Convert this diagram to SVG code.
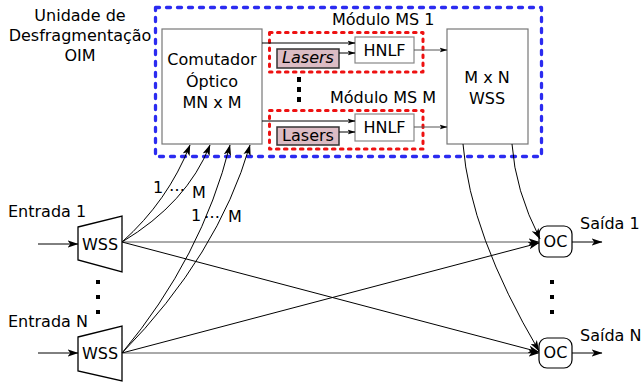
<svg xmlns="http://www.w3.org/2000/svg" width="643" height="383" viewBox="0 0 643 383">
<style>
text{font-family:"DejaVu Sans","Liberation Sans",sans-serif;font-size:16px;fill:#000}
.c{text-anchor:middle}
.box{fill:#fff;stroke:#777;stroke-width:1.2}
.hn{fill:#fff;stroke:#888;stroke-width:1.2}
.las{fill:#dcbcc4;stroke:#333;stroke-width:1.5}
.wss{fill:#fff;stroke:#000;stroke-width:1.3}
.oc{fill:#fff;stroke:#000;stroke-width:1.2}
.ln{fill:none;stroke:#000;stroke-width:1}
.lg{fill:none;stroke:#555;stroke-width:1}
.big{marker-end:url(#ah)}
.sm{marker-end:url(#as)}
.blue{fill:none;stroke:#2b2bf0;stroke-width:3.3;stroke-dasharray:4 7;stroke-linecap:round;stroke-linejoin:round}
.red{fill:none;stroke:#ee1111;stroke-width:3;stroke-dasharray:2.6 5.4;stroke-linecap:round;stroke-linejoin:round}
.dot{fill:#000}
</style>
<defs>
<marker id="ah" viewBox="0 0 11 8" refX="10.5" refY="4" markerWidth="11" markerHeight="8" markerUnits="userSpaceOnUse" orient="auto">
<path d="M0,0.3 L11,4 L0,7.7 L2.8,4 Z" fill="#000"/>
</marker>
<marker id="as" viewBox="0 0 8 6" refX="7.5" refY="3" markerWidth="8" markerHeight="6" markerUnits="userSpaceOnUse" orient="auto">
<path d="M0,0.5 L8,3 L0,5.5 L2,3 Z" fill="#000"/>
</marker>
</defs>

<g id="unit-label">
<text class="c" x="80" y="21">Unidade de</text>
<text class="c" x="80" y="41">Desfragmentação</text>
<text class="c" x="80" y="61">OIM</text>
</g>

<g id="oim-unit">
<rect class="blue" x="155.5" y="7.5" width="386" height="149"/>
</g>

<g id="comutador">
<rect class="box" x="162" y="29" width="100" height="115"/>
<text class="c" x="212" y="65">Comutador</text>
<text class="c" x="212" y="87">Óptico</text>
<text class="c" x="212" y="108">MN x M</text>
</g>

<g id="modulo-ms-1">
<rect class="red" x="269.5" y="32.5" width="153.5" height="39.5"/>
<text x="332" y="25">Módulo MS 1</text>
</g>
<g id="hnlf-1">
<rect class="hn" x="355" y="37" width="59" height="26"/>
<text class="c" x="384.5" y="56">HNLF</text>
</g>
<g id="lasers-1">
<rect class="las" x="277" y="49" width="62" height="19"/>
<text class="c" x="308" y="63" font-style="italic">Lasers</text>
</g>

<g id="modulo-ms-m">
<rect class="red" x="269.5" y="110.5" width="153.5" height="38.5"/>
<text x="330" y="103">Módulo MS M</text>
</g>
<g id="hnlf-m">
<rect class="hn" x="355" y="114" width="59" height="27"/>
<text class="c" x="384.5" y="133">HNLF</text>
</g>
<g id="lasers-m">
<rect class="las" x="277" y="127" width="62" height="18"/>
<text class="c" x="308" y="141">Lasers</text>
</g>

<g id="module-dots">
<rect class="dot" x="297" y="77" width="4" height="5"/>
<rect class="dot" x="297" y="87" width="4" height="5"/>
<rect class="dot" x="297" y="97" width="4" height="5"/>
</g>

<g id="mxn-wss">
<rect class="box" x="447" y="29" width="81" height="115"/>
<text class="c" x="487" y="83">M x N</text>
<text class="c" x="487" y="104">WSS</text>
</g>

<g id="wss-1">
<path class="wss" d="M78,227 L122,216 L122,272 L78,260 Z"/>
<text class="c" x="100" y="250">WSS</text>
</g>
<g id="wss-n">
<path class="wss" d="M78,337 L122,326 L122,381 L78,371 Z"/>
<text class="c" x="100" y="359">WSS</text>
</g>

<g id="entrada-labels">
<text x="8" y="217">Entrada 1</text>
<text x="8" y="327">Entrada N</text>
</g>

<g id="wss-dots">
<rect class="dot" x="96" y="280" width="4" height="4"/>
<rect class="dot" x="96" y="295" width="4" height="4"/>
<rect class="dot" x="96" y="310" width="4" height="4"/>
</g>

<g id="oc-1">
<rect class="oc" x="539" y="226" width="33" height="31" rx="8"/>
<text class="c" x="555.5" y="247">OC</text>
</g>
<g id="oc-n">
<rect class="oc" x="539" y="338" width="33" height="30" rx="8"/>
<text class="c" x="555.5" y="358">OC</text>
</g>

<g id="oc-dots">
<rect class="dot" x="550" y="280" width="4" height="4"/>
<rect class="dot" x="550" y="295" width="4" height="4"/>
<rect class="dot" x="550" y="310" width="4" height="4"/>
</g>

<g id="saida-labels">
<text x="580" y="229">Saída 1</text>
<text x="580" y="341">Saída N</text>
</g>

<g id="connectors">
<path class="ln big" d="M38,244 L78,244"/>
<path class="ln big" d="M38,353 L78,353"/>
<path class="lg big" d="M122,242 L539,242"/>
<path class="lg big" d="M122,353 L539,353"/>
<path class="ln big" d="M122,242 L539,352"/>
<path class="ln big" d="M122,353 L539,243"/>
<path class="ln big" d="M572,242 L602,242"/>
<path class="ln big" d="M572,353 L602,353"/>

<path class="ln big" d="M122,242 Q168,201 190,145"/>
<path class="ln big" d="M122,242 Q187,203 210,145"/>
<path class="ln big" d="M122,353 Q202,257 230,145"/>
<path class="ln big" d="M122,353 Q218,255 250,145"/>

<path class="ln big" d="M463,144 Q470,234 539,351"/>
<path class="ln big" d="M512,144 Q515,190 540,239"/>

<path class="ln sm" d="M262,43 L355,43"/>
<path class="ln sm" d="M339,53 L355,53"/>
<path class="lg sm" d="M414,50 L447,50"/>
<path class="ln sm" d="M262,121 L355,121"/>
<path class="ln sm" d="M339,132 L355,132"/>
<path class="lg sm" d="M414,127 L447,127"/>
</g>

<g id="curve-labels">
<text x="153" y="193">1</text>
<text x="169" y="191" font-size="16">…</text>
<text x="192" y="198">M</text>
<text x="191" y="221">1</text>
<text x="204" y="218" font-size="16">…</text>
<text x="228" y="222">M</text>
</g>
</svg>
